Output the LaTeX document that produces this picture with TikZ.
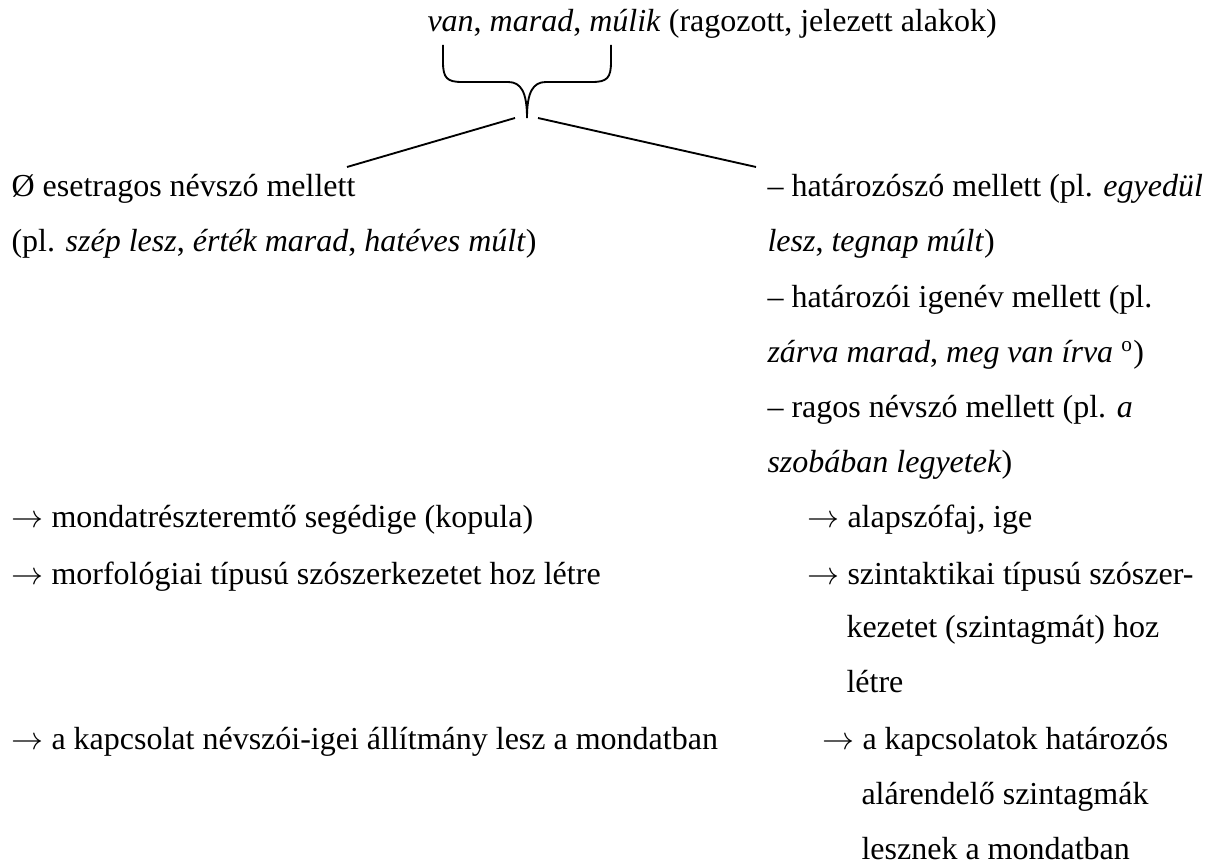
\documentclass[tikz,border=0pt]{standalone}
\usepackage{fontspec}
\setmainfont{Liberation Serif}
\begin{document}
\begin{tikzpicture}[x=0.375pt,y=-0.375pt,
  txt/.style={anchor=base west,inner sep=0pt,font=\fontsize{12pt}{14pt}\selectfont},
  conn/.style={line width=0.7pt}]
\useasboundingbox (0,0) rectangle (1208,865);
\node[txt] (title) at (427,32) {\textit{van}, \textit{marad}, \textit{múlik} (ragozott, jelezett alakok)};
% brace
\coordinate (bl) at (443,45);
\coordinate (br) at (611,45);
\coordinate (cusp) at (527,118);
\draw[conn] (bl) -- (443,62) .. controls (443,78) and (447,82) .. (462,82) -- (508,82)
  .. controls (521,82) and (527,92) .. (cusp)
  .. controls (527,92) and (533,82) .. (546,82) -- (592,82)
  .. controls (607,82) and (611,78) .. (611,62) -- (br);
\coordinate (la) at (515,118);
\coordinate (lb) at (347,167);
\coordinate (ra) at (538,118);
\coordinate (rb) at (756,167);
\draw[conn] (la) -- (lb);
\draw[conn] (ra) -- (rb);
% left column
\node[txt] (L1) at (11,197) {Ø esetragos névszó mellett};
\node[txt] (L2) at (11,252) {(pl. \textit{szép lesz}, \textit{érték marad}, \textit{hatéves múlt})};
\node[txt] (L3) at (11,528) {$\rightarrow$ mondatrészteremtő segédige (kopula)};
\node[txt] (L4) at (11,585) {$\rightarrow$ morfológiai típusú szószerkezetet hoz létre};
\node[txt] (L5) at (11,750) {$\rightarrow$ a kapcsolat névszói-igei állítmány lesz a mondatban};
% right column
\node[txt] (R1) at (767,197) {– határozószó mellett (pl. \textit{egyedül}};
\node[txt] (R2) at (767,252) {\textit{lesz}, \textit{tegnap múlt})};
\node[txt] (R3) at (767,308) {– határozói igenév mellett (pl.};
\node[txt] (R4) at (767,363) {\textit{zárva marad}, \textit{meg van írva} \textsuperscript{o})};
\node[txt] (R5) at (767,418) {– ragos névszó mellett (pl. \textit{a}};
\node[txt] (R6) at (767,473) {\textit{szobában legyetek})};
\node[txt] (R7) at (807,528) {$\rightarrow$ alapszófaj, ige};
\node[txt] (R8) at (807,585) {$\rightarrow$ szintaktikai típusú szószer-};
\node[txt] (R9) at (846,638) {kezetet (szintagmát) hoz};
\node[txt] (R10) at (846,693) {létre};
\node[txt] (R11) at (822,750) {$\rightarrow$ a kapcsolatok határozós};
\node[txt] (R12) at (861,805) {alárendelő szintagmák};
\node[txt] (R13) at (861,860) {lesznek a mondatban};
\end{tikzpicture}
\end{document}
